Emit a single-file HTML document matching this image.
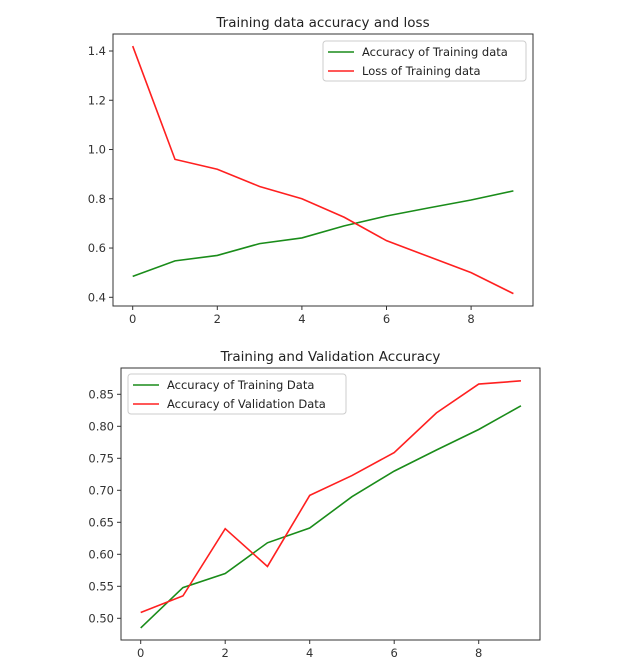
<!DOCTYPE html>
<html><head><meta charset="utf-8"><style>
body{margin:0;background:#fff;}
svg{display:block;font-family:"DejaVu Sans","Liberation Sans",sans-serif;}
</style></head><body>
<svg id="s" width="627" height="672"></svg>
<script>
const epochs=[0,1,2,3,4,5,6,7,8,9];
const trainAcc=[0.485,0.548,0.570,0.618,0.641,0.690,0.730,0.763,0.795,0.832];
const trainLoss=[1.42,0.96,0.92,0.85,0.80,0.725,0.63,0.565,0.50,0.415];
const valAcc=[0.509,0.535,0.640,0.581,0.692,0.723,0.759,0.821,0.866,0.871];
const xTicks=[0,2,4,6,8];
const yTicksTop=["0.4","0.6","0.8","1.0","1.2","1.4"];
const yTicksBot=["0.50","0.55","0.60","0.65","0.70","0.75","0.80","0.85"];
const NS="http://www.w3.org/2000/svg";
const svg=document.getElementById('s');
function el(t,a,p){const e=document.createElementNS(NS,t);for(const k in a)e.setAttribute(k,a[k]);(p||svg).appendChild(e);return e;}
function chart(cfg){
  const g=el('g',{});
  
  
  const xs=v=>cfg.x0+(v-0)*cfg.xu;
  const ys=v=>cfg.yRef+(cfg.vRef-v)*cfg.yu;
  const t=el('text',{x:(cfg.L+cfg.R)/2,y:cfg.T-7,'text-anchor':'middle','font-size':13.5,fill:'#222'},g);
  t.textContent=cfg.title;
  
  
  xTicks.forEach(v=>{const x=xs(v);el('line',{x1:x,x2:x,y1:cfg.B,y2:cfg.B+4,stroke:'#333'},g);
    const tx=el('text',{x:x,y:cfg.B+17,'text-anchor':'middle','font-size':11.5,fill:'#333'},g);tx.textContent=v;
    
    });
  cfg.yTicks.forEach(s=>{const y=ys(parseFloat(s));el('line',{x1:cfg.L-4,x2:cfg.L,y1:y,y2:y,stroke:'#333'},g);
    const tx=el('text',{x:cfg.L-7,y:y+4,'text-anchor':'end','font-size':11.5,fill:'#333'},g);tx.textContent=s;
    
    });
  cfg.series.forEach(s=>{const p=el('polyline',{points:epochs.map((e,i)=>xs(e)+','+ys(s.data[i])).join(' '),fill:'none',stroke:s.color,'stroke-width':1.6},g);
    
    });
  el('rect',{x:cfg.L,y:cfg.T,width:cfg.R-cfg.L,height:cfg.B-cfg.T,fill:'none',stroke:'#333','stroke-width':1},g);
  const lg=el('g',{},g);
  
  
  el('rect',{x:cfg.lx,y:cfg.ly,width:cfg.lw,height:40,rx:3,fill:'#fff',stroke:'#ccc'},lg);
  cfg.series.forEach((s,i)=>{const y=cfg.ly+11+i*19;
    el('line',{x1:cfg.lx+5,x2:cfg.lx+31,y1:y,y2:y,stroke:s.color,'stroke-width':1.6},lg);
    const tx=el('text',{x:cfg.lx+39,y:y+4,'font-size':11.5,fill:'#222'},lg);tx.textContent=s.label;
    
    });
}
chart({name:'top-chart',title:'Training data accuracy and loss',L:113,R:533,T:34,B:306,x0:132.7,xu:42.3,yRef:297.3,vRef:0.4,yu:246.3,yTicks:yTicksTop,lx:323,ly:41,lw:203,
  series:[{id:'train-acc-line',label:'Accuracy of Training data',color:'#1a8c1a',data:trainAcc},{id:'train-loss-line',label:'Loss of Training data',color:'#ff2020',data:trainLoss}]});
chart({name:'bottom-chart',title:'Training and Validation Accuracy',L:121,R:540,T:368,B:640,x0:140.7,xu:42.25,yRef:618.3,vRef:0.5,yu:640,yTicks:yTicksBot,lx:128,ly:374,lw:218,
  series:[{id:'train-acc-line-2',label:'Accuracy of Training Data',color:'#1a8c1a',data:trainAcc},{id:'val-acc-line',label:'Accuracy of Validation Data',color:'#ff2020',data:valAcc}]});
</script>
</body></html>
